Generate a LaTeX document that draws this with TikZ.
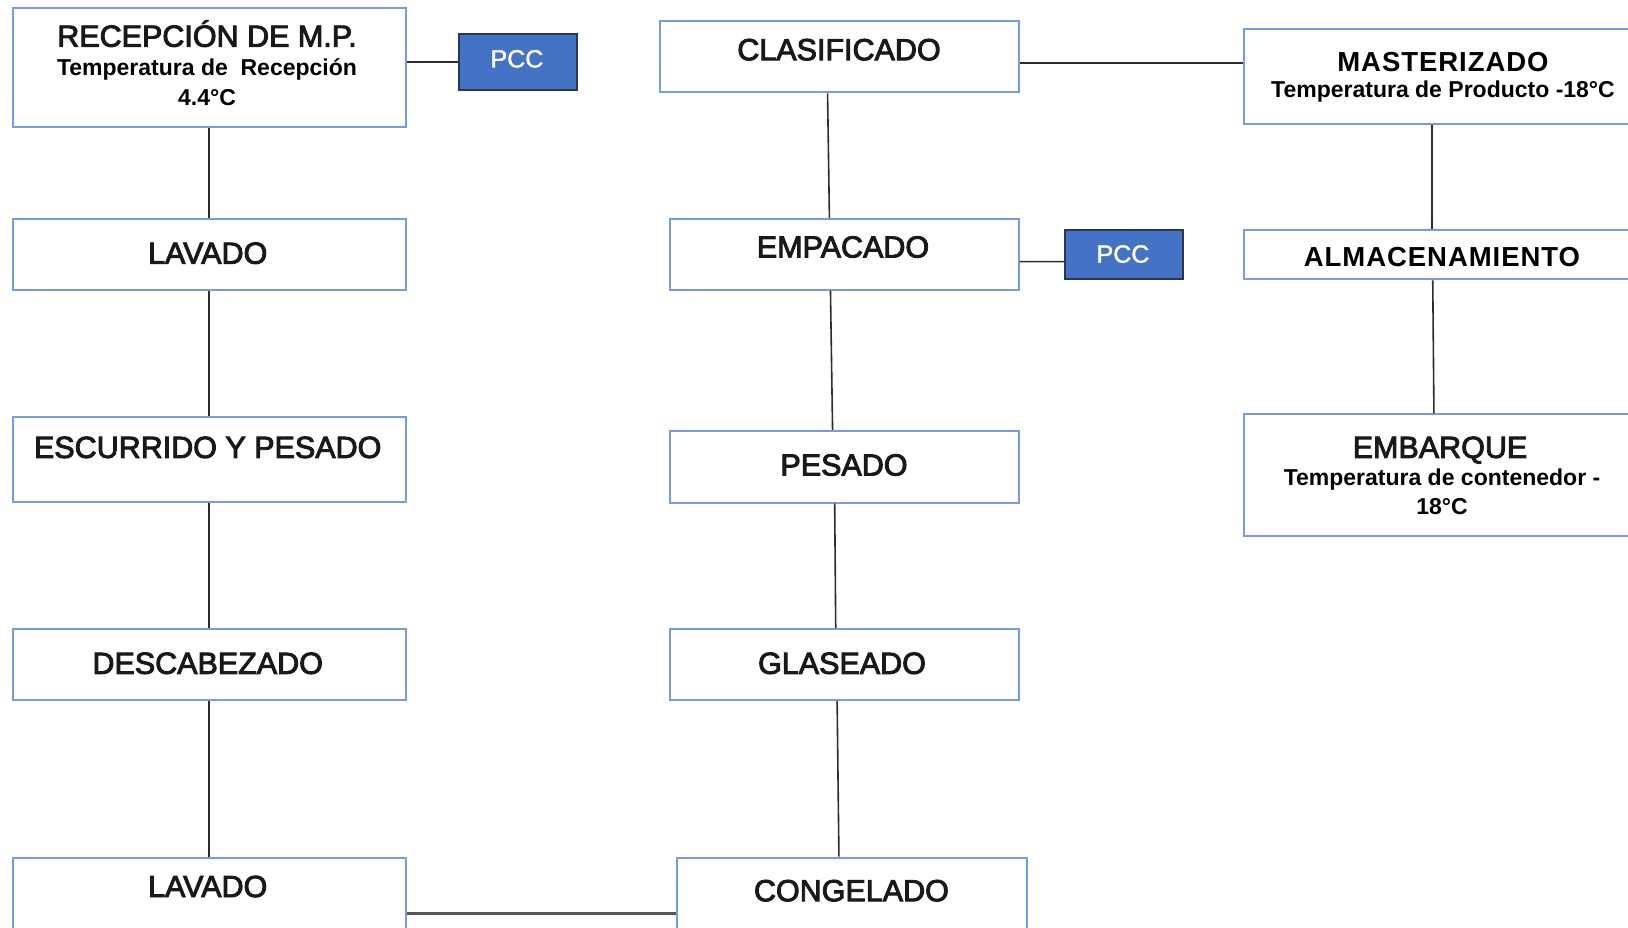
\documentclass[tikz,border=0pt]{standalone}
\usepackage{fontspec}
\setmainfont{Liberation Sans}
\newfontfamily\medfont[FakeBold=3]{Liberation Sans}
\newfontfamily\pccfont[FakeBold=1.5]{Liberation Sans}
\newfontfamily\widebold[LetterSpace=3.5]{Liberation Sans}
\usetikzlibrary{calc}
\definecolor{boxblue}{RGB}{120,155,225}
\definecolor{pccblue}{RGB}{68,114,196}
\definecolor{pccline}{RGB}{43,54,80}
\definecolor{conn}{RGB}{45,45,45}
\tikzset{
  box/.style={draw=boxblue, line width=2pt, fill=white, inner sep=0pt},
  pccbox/.style={draw=pccline, fill=pccblue, line width=2pt, inner sep=0pt},
  ttl/.style={anchor=base, inner sep=0pt, text=black!90, font=\medfont\fontsize{30.5}{36}\selectfont},
  bttl/.style={anchor=base, inner sep=0pt, font=\widebold\fontsize{27.5}{33}\selectfont\bfseries},
  sub/.style={anchor=base, inner sep=0pt, font=\fontsize{23}{28}\selectfont\bfseries},
  pcctxt/.style={anchor=base, inner sep=0pt, text=white, font=\pccfont\fontsize{25}{30}\selectfont},
  link/.style={draw=conn, line width=1.6pt},
}
\begin{document}
\begin{tikzpicture}[x=1pt,y=-1pt]
\useasboundingbox (0,0) rectangle (1628,928);
\fill[white] (0,0) rectangle (1628,928);
% column 1
\node[box, minimum width=393.5, minimum height=118.4] (rec) at (209.25,67.5) {};
\node[box, minimum width=393.5, minimum height=70.7] (lavA) at (209.25,254.35) {};
\node[box, minimum width=393.5, minimum height=84.1] (esc) at (209.25,459.45) {};
\node[box, minimum width=393.5, minimum height=70.6] (desc) at (209.25,664.5) {};
\node[box, minimum width=393.5, minimum height=73] (lavB) at (209.25,894.1) {};
\node[pccbox, minimum width=118.3, minimum height=56] (pccA) at (518.2,62.3) {};
% column 2
\node[box, minimum width=358.3, minimum height=71.6] (clas) at (839.45,56.6) {};
\node[box, minimum width=348.9, minimum height=70.7] (emp) at (844.15,254.35) {};
\node[pccbox, minimum width=117.3, minimum height=48.8] (pccB) at (1123.95,254.9) {};
\node[box, minimum width=348.9, minimum height=71.6] (pes) at (844.15,466.7) {};
\node[box, minimum width=348.9, minimum height=70.6] (gla) at (844.15,664.5) {};
\node[box, minimum width=349.9, minimum height=73] (cong) at (851.95,894.1) {};
% column 3
\node[box, minimum width=396.2, minimum height=94.5] (mast) at (1441.9,76.35) {};
\node[box, minimum width=396.2, minimum height=48.8] (alm) at (1441.9,254.9) {};
\node[box, minimum width=396.2, minimum height=121.5] (emb) at (1441.9,475.05) {};
% texts
\node[ttl] (t1) at (207,46.7) {RECEPCIÓN DE M.P.};
\node[sub] (t1a) at (207,75.8) {Temperatura de\ \ Recepción};
\node[sub] (t1b) at (207,105.9) {4.4°C};
\node[ttl] (t2) at (207.7,263.7) {LAVADO};
\node[ttl] (t3) at (207.7,457.9) {ESCURRIDO Y PESADO};
\node[ttl] (t4) at (207.7,673.8) {DESCABEZADO};
\node[ttl] (t5) at (207.7,897) {LAVADO};
\node[pcctxt] (p1) at (517,67.5) {PCC};
\node[ttl] (t6) at (839,60.2) {CLASIFICADO};
\node[ttl] (t7) at (843,257.5) {EMPACADO};
\node[pcctxt] (p2) at (1123,262.7) {PCC};
\node[ttl] (t8) at (844,475.5) {PESADO};
\node[ttl] (t9) at (842,673.8) {GLASEADO};
\node[ttl] (t10) at (851.4,901.2) {CONGELADO};
\node[bttl] (t11) at (1443,71.1) {MASTERIZADO};
\node[sub] (t11a) at (1443,97.6) {Temperatura de Producto -18°C};
\node[bttl] (t12) at (1442,266.8) {ALMACENAMIENTO};
\node[ttl] (t13) at (1440,457.9) {EMBARQUE};
\node[sub] (t13a) at (1442,485.9) {Temperatura de contenedor -};
\node[sub] (t13b) at (1442,514) {18°C};
% connectors
\draw[link] (rec.south) -- (lavA.north);
\draw[link] (lavA.south) -- (esc.north);
\draw[link] (esc.south) -- (desc.north);
\draw[link] (desc.south) -- (lavB.north);
\draw[link] (pccA.west -| rec.east) -- (pccA.west);
\draw[draw=conn!80, line width=3pt] ($(lavB.east)+(0,19.6)$) -- ($(cong.west)+(0,19.6)$);
\draw[link] ($(cong.north west)!0.463!(cong.north east)$) -- ($(gla.south west)!0.48!(gla.south east)$);
\draw[link] ($(gla.north west)!0.476!(gla.north east)$) -- ($(pes.south west)!0.473!(pes.south east)$);
\draw[link] ($(pes.north west)!0.467!(pes.north east)$) -- ($(emp.south west)!0.461!(emp.south east)$);
\draw[link] ($(emp.north west)!0.458!(emp.north east)$) -- ($(clas.south west)!0.467!(clas.south east)$);
\draw[link] ($(emp.east)+(0,7.25)$) -- ($(pccB.west)+(0,6.7)$);
\draw[link] ($(clas.east)+(0,6.7)$) -- ($(mast.west)+(0,-13.05)$);
\draw[link] ($(mast.south west)!0.4745!(mast.south east)$) -- ($(alm.north west)!0.4745!(alm.north east)$);
\draw[link] ($(alm.south west)!0.477!(alm.south east)$) -- ($(emb.north west)!0.48!(emb.north east)$);
\end{tikzpicture}
\end{document}
